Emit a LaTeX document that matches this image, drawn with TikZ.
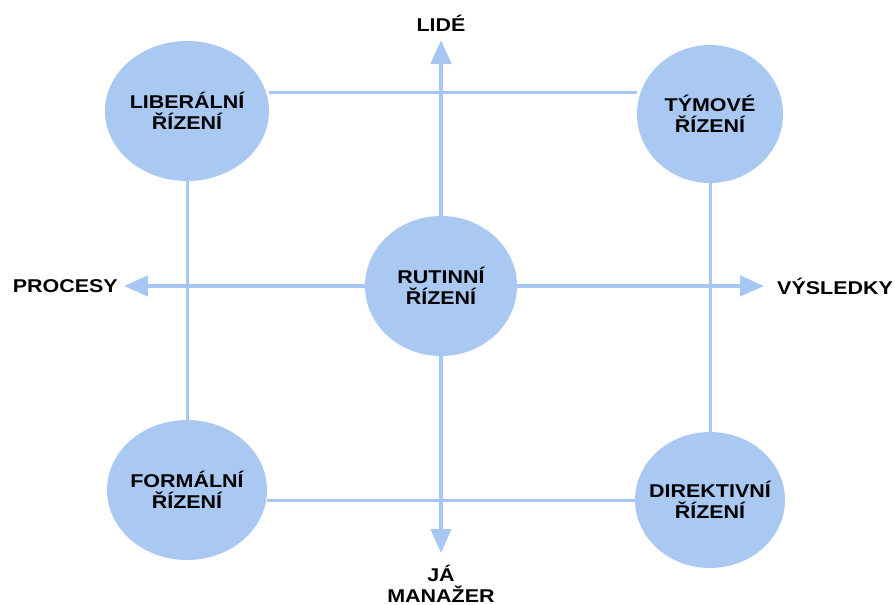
\documentclass[tikz,border=0pt]{standalone}
\usepackage{fontspec}
\setmainfont{Liberation Sans}
\newfontfamily\lbfont[FakeStretch=1.16]{Liberation Sans}
\usetikzlibrary{shapes.geometric,arrows.meta}
\definecolor{circ}{HTML}{A9C8F2}
\definecolor{lne}{HTML}{A6C6F4}
\tikzset{
  lbl/.style={font=\lbfont\bfseries\fontsize{18.5}{21}\selectfont,align=center,inner sep=0pt},
  bubble/.style={ellipse,fill=circ,draw=none,inner sep=0pt},
  frame/.style={draw=lne,line width=3pt},
  axis/.style={draw=lne,line width=4.5pt,-{Triangle[length=24pt,width=20pt]}}
}
\begin{document}
\begin{tikzpicture}[x=1pt,y=-1pt]
\useasboundingbox (0,0) rectangle (895,605);
% bubbles
\node[bubble,minimum width=164pt,minimum height=140pt,label={[lbl]center:LIBERÁLNÍ\\ŘÍZENÍ}] (lib) at (187,111) {};
\node[bubble,minimum width=146pt,minimum height=138pt,label={[lbl]center:TÝMOVÉ\\ŘÍZENÍ}] (tym) at (710,114) {};
\node[bubble,minimum width=160pt,minimum height=140pt,label={[lbl]center:FORMÁLNÍ\\ŘÍZENÍ}] (for) at (187,490) {};
\node[bubble,minimum width=150pt,minimum height=136pt,label={[lbl]center:DIREKTIVNÍ\\ŘÍZENÍ}] (dir) at (710,500) {};
% labels
\node[lbl] (lide) at (441,23) {LIDÉ};
\node[lbl,anchor=east] (proc) at (118,286) {PROCESY};
\node[lbl,anchor=west] (vys) at (777,286) {VÝSLEDKY};
\node[lbl] (ja) at (441,584) {JÁ\\MANAŽER};
% axis coordinates
\coordinate (tT) at (441,40);
\coordinate (tB) at (441,553);
\coordinate (tL) at (124,286);
\coordinate (tR) at (764,286);
\coordinate (ctr) at (441,286);
% frame lines
\draw[frame] (lib.east |- 0,92) -- (tym.west |- 0,92);
\draw[frame] (for.east |- 0,500) -- (dir.west |- 0,500);
\draw[frame] (lib.south) -- (for.north);
\draw[frame] (tym.south) -- (dir.north);
% axes
\draw[axis] (ctr) -- (tT);
\draw[axis] (ctr) -- (tB);
\draw[axis] (ctr) -- (tL);
\draw[axis] (ctr) -- (tR);
% centre bubble over the axes
\node[bubble,minimum width=152pt,minimum height=140pt,label={[lbl]center:RUTINNÍ\\ŘÍZENÍ}] (rut) at (ctr) {};
\end{tikzpicture}
\end{document}
